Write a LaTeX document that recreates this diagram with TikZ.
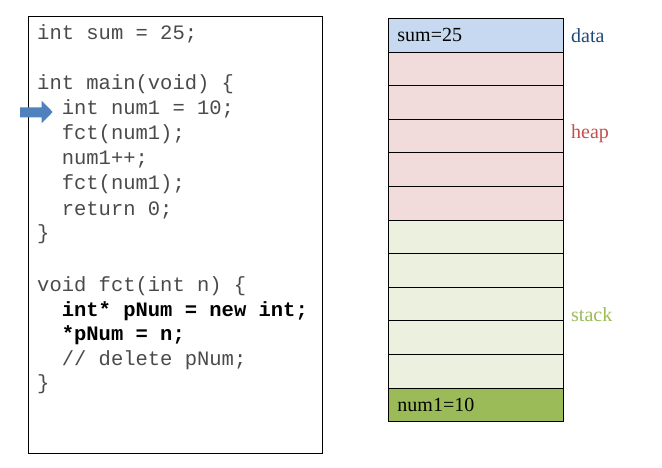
\documentclass[tikz,border=0pt]{standalone}
\usepackage{fontspec}
\setmainfont{Liberation Serif}
\newfontfamily\codefont{Liberation Mono}
\definecolor{codegray}{HTML}{4A4A4A}
\definecolor{databg}{HTML}{C6D9F1}
\definecolor{heapbg}{HTML}{F2DCDB}
\definecolor{stackbg}{HTML}{EBF1DE}
\definecolor{stackdark}{HTML}{9BBB59}
\definecolor{datatxt}{HTML}{1F497D}
\definecolor{heaptxt}{HTML}{C0504D}
\definecolor{stacktxt}{HTML}{9BBB59}
\definecolor{arrowblue}{HTML}{4F81BD}
\begin{document}
\begin{tikzpicture}[x=1pt,y=-1pt,
  codeline/.style={anchor=base west,inner sep=0pt,text=codegray,font=\codefont\fontsize{20.5}{25}\selectfont},
  boldline/.style={codeline,text=black,font=\codefont\bfseries\fontsize{20.5}{25}\selectfont},
  cell/.style={draw=black,line width=0.9pt,minimum width=175pt,minimum height=33.6pt,
    text width=157pt,inner xsep=9pt,inner ysep=0pt,align=left,anchor=north west,
    font=\fontsize{20}{24}\selectfont},
  seglabel/.style={anchor=west,inner sep=0pt,font=\fontsize{20}{24}\selectfont}]
\useasboundingbox (0,0) rectangle (662,468);
% code box
\node[draw=black,line width=0.9pt,minimum width=294pt,minimum height=437pt,anchor=north west,inner sep=0pt] (codebox) at (28,16) {};
\node[codeline] (c1) at (37,40) {int sum = 25;};
\node[codeline] (c2) at (37,90) {int main(void) \{};
\node[codeline] (c3) at (37,115) {\ \ int num1 = 10;};
\node[codeline] (c4) at (37,140) {\ \ fct(num1);};
\node[codeline] (c5) at (37,165) {\ \ num1++;};
\node[codeline] (c6) at (37,190) {\ \ fct(num1);};
\node[codeline] (c7) at (37,215) {\ \ return 0;};
\node[codeline] (c8) at (37,240) {\}};
\node[codeline] (c9) at (37,291.5) {void fct(int n) \{};
\node[boldline] (c10) at (37,316) {\ \ int* pNum = new int;};
\node[boldline] (c11) at (37,340.5) {\ \ *pNum = n;};
\node[codeline] (c12) at (37,365) {\ \ // delete pNum;};
\node[codeline] (c13) at (37,389.5) {\}};
% arrow
\fill[arrowblue] (20,107.3) -- (41.7,107.3) -- (41.7,100.7) -- (52.7,112) -- (41.7,123.3) -- (41.7,117.3) -- (20,117.3) -- cycle;
% memory cells
\node[cell,fill=databg] (m1) at (388,18) {sum=25};
\foreach \i in {2,...,6}{
  \node[cell,fill=heapbg] (m\i) at (388,{18+(\i-1)*33.6}) {};
}
\foreach \i in {7,...,11}{
  \node[cell,fill=stackbg] (m\i) at (388,{18+(\i-1)*33.6}) {};
}
\node[cell,fill=stackdark] (m12) at (388,{18+11*33.6}) {num1=10};
% labels
\node[seglabel,text=datatxt] (ldata) at (571,36) {data};
\node[seglabel,text=heaptxt] (lheap) at (571,134) {heap};
\node[seglabel,text=stacktxt] (lstack) at (571,315) {stack};
\end{tikzpicture}
\end{document}
